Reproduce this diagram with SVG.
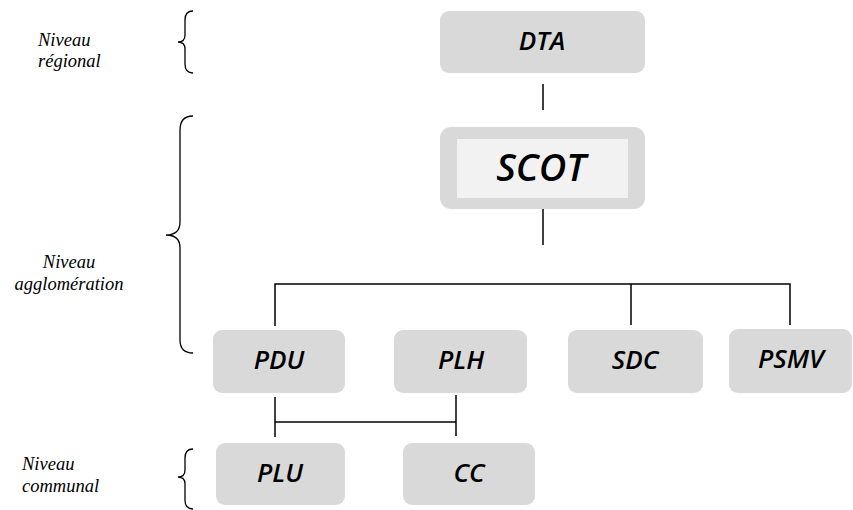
<svg xmlns="http://www.w3.org/2000/svg" width="853" height="510" viewBox="0 0 853 510">
  <style>
    .box { fill: #d9d9d9; }
    .inner { fill: #f2f2f2; }
    .lbl { font-family: "Open Sans", "Liberation Sans", sans-serif; font-weight: 600; font-style: italic; font-size: 26px; fill: #000; text-anchor: middle; }
    .big { font-size: 38px; }
    .lvl { font-family: "Liberation Serif", serif; font-style: italic; font-size: 18.5px; fill: #000; }
    .ln { stroke: #000; stroke-width: 1.5; fill: none; }
    .br { stroke: #000; stroke-width: 1.3; fill: none; }
  </style>

  <!-- level captions and their braces -->
  <g id="levels">
    <text class="lvl" x="38" y="46">Niveau</text>
    <text class="lvl" x="38" y="67">régional</text>
    <text class="lvl" x="69" y="268" text-anchor="middle">Niveau</text>
    <text class="lvl" x="69" y="290" text-anchor="middle">agglomération</text>
    <text class="lvl" x="22" y="470">Niveau</text>
    <text class="lvl" x="22" y="492">communal</text>
    <path class="br" d="M193,11 Q185,11 185,20 L185,35 Q185,42 178,42 Q185,42 185,49 L185,64 Q185,73 193,73"/>
    <path class="br" d="M193,116 Q180,116 180,130 L180,222 Q180,235 166,235 Q180,235 180,248 L180,340 Q180,353 193,353"/>
    <path class="br" d="M193,449 Q185,449 185,458 L185,470 Q185,477 178,477 Q185,477 185,484 L185,500 Q185,509 193,509"/>
  </g>

  <!-- connectors -->
  <g id="connectors">
    <line class="ln" x1="543" y1="84" x2="543" y2="110"/>
    <line class="ln" x1="543" y1="209" x2="543" y2="245"/>
    <polyline class="ln" points="275,326 275,284 790,284 790,325"/>
    <line class="ln" x1="631" y1="284" x2="631" y2="325"/>
    <line class="ln" x1="275" y1="397" x2="275" y2="437"/>
    <line class="ln" x1="456" y1="395" x2="456" y2="436"/>
    <line class="ln" x1="275" y1="422" x2="456" y2="422"/>
  </g>

  <g id="DTA">
    <rect class="box" x="440" y="11" width="205" height="62" rx="9"/>
    <text class="lbl" x="542" y="50">DTA</text>
  </g>
  <g id="SCOT">
    <rect class="box" x="440" y="127" width="205" height="82" rx="11"/>
    <rect class="inner" x="457" y="139" width="171" height="59"/>
    <text class="lbl big" x="541" y="181">SCOT</text>
  </g>
  <g id="PDU">
    <rect class="box" x="213" y="330" width="132" height="63" rx="9"/>
    <text class="lbl" x="279" y="369">PDU</text>
  </g>
  <g id="PLH">
    <rect class="box" x="394" y="330" width="133" height="63" rx="9"/>
    <text class="lbl" x="461" y="369">PLH</text>
  </g>
  <g id="SDC">
    <rect class="box" x="568" y="330" width="135" height="63" rx="9"/>
    <text class="lbl" x="635" y="369">SDC</text>
  </g>
  <g id="PSMV">
    <rect class="box" x="729" y="329" width="123" height="64" rx="9"/>
    <text class="lbl" x="791" y="368">PSMV</text>
  </g>
  <g id="PLU">
    <rect class="box" x="216" y="443" width="129" height="62" rx="9"/>
    <text class="lbl" x="280" y="482">PLU</text>
  </g>
  <g id="CC">
    <rect class="box" x="403" y="443" width="132" height="62" rx="9"/>
    <text class="lbl" x="469" y="482">CC</text>
  </g>
</svg>
